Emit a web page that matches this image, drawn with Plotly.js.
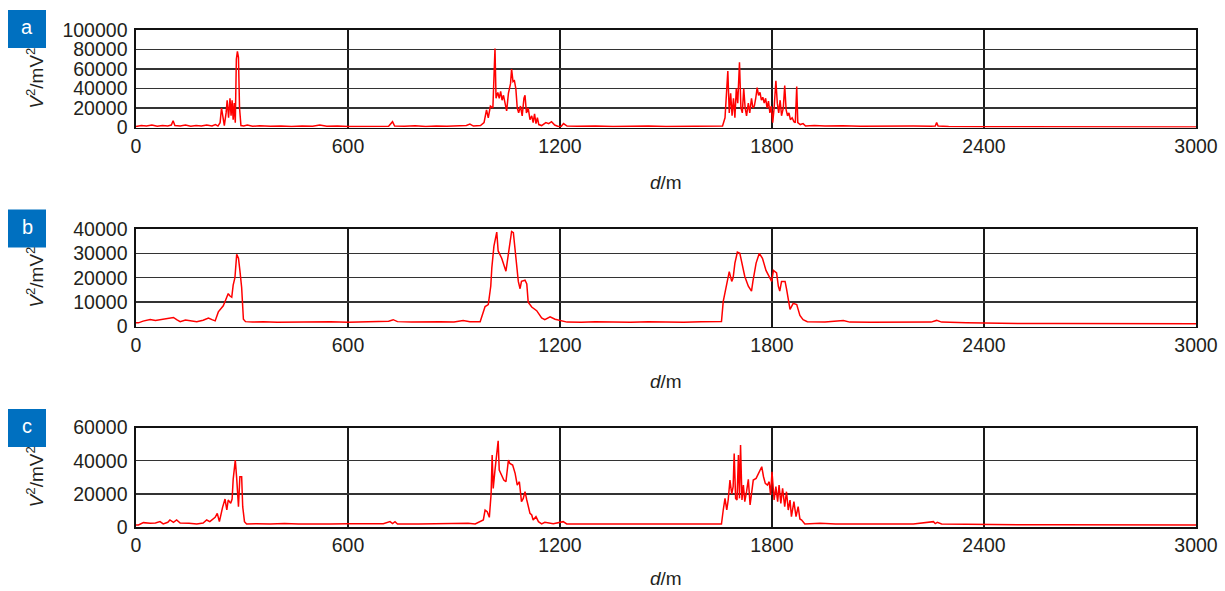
<!DOCTYPE html>
<html><head><meta charset="utf-8">
<script src="https://cdn.plot.ly/plotly-3.0.1.min.js"></script>
<style>html,body{margin:0;padding:0;background:#fff}#chart{width:1225px;height:591px}</style>
</head><body><div id="chart"></div>
<script>
// Panel a
const aDist = [0,15,30,45,60,75,90,100,105,110,125,140,155,170,185,200,215,225,232,238,242,246,250,255,258,262,266,269,272,275,278,281,284,287,290,293,297,305,315,330,350,380,410,440,470,500,520,540,570,600,630,660,690,715,726,732,760,790,820,850,880,910,935,945,955,975,985,992,997,1003,1010,1016,1019,1024,1028,1032,1036,1040,1044,1049,1054,1060,1063,1067,1071,1075,1079,1083,1088,1093,1098,1101,1105,1110,1115,1120,1124,1128,1132,1136,1140,1148,1160,1168,1176,1185,1195,1203,1210,1220,1250,1300,1350,1400,1450,1500,1550,1600,1640,1660,1667,1671,1675,1679,1683,1687,1691,1695,1699,1703,1708,1712,1716,1720,1724,1728,1733,1737,1742,1746,1750,1754,1758,1762,1766,1770,1774,1778,1782,1786,1790,1794,1798,1802,1806,1811,1815,1819,1823,1827,1832,1836,1840,1844,1848,1852,1857,1862,1866,1870,1873,1880,1888,1895,1920,1950,2000,2050,2100,2150,2200,2250,2262,2266,2270,2300,2350,2400,2500,2600,2700,2800,2900,3000];
const aPower = [1000,2000,1500,2500,1200,2000,1500,2500,7000,2000,1500,2500,1200,2000,1500,2500,1500,3000,1500,5000,20000,8000,2000,15000,28000,10000,30000,12000,28000,8000,25000,5000,70000,78000,72000,20000,2000,1500,2500,1200,1800,1200,1500,1000,1500,1200,2500,1200,1500,1000,1200,1500,1000,1200,6000,1500,1200,1800,1000,1500,1200,1800,2000,3500,1500,2000,5000,18000,10000,22000,20000,81000,30000,36000,30000,37000,28000,33000,25000,17000,35000,45000,60000,47000,48000,40000,20000,15000,22000,12000,30000,33000,15000,20000,8000,12000,5000,14000,4000,10000,3000,2000,5000,4000,6000,2500,1000,1000,4000,1500,1200,1500,1000,1300,1500,1000,1300,1200,1500,1500,10000,30000,58000,15000,35000,12000,30000,10000,40000,25000,67000,20000,15000,40000,20000,12000,25000,15000,30000,20000,22000,30000,41000,33000,36000,28000,31000,25000,30000,20000,27000,15000,22000,5000,20000,48000,25000,15000,28000,12000,20000,43000,18000,12000,15000,8000,10000,6000,5000,42000,5000,3000,4000,1500,2000,1500,1800,1200,1500,1200,1500,1200,1500,5000,1500,1000,1200,800,700,800,600,700,600,600];
// Panel b
const bDist = [0,7,20,40,55,70,85,100,106,115,125,140,155,172,190,205,215,224,233,240,247,254,261,266,271,275,280,285,290,294,299,304,310,330,360,400,450,500,550,600,650,700,715,728,740,780,820,860,900,926,945,974,988,997,1004,1007,1013,1021,1025,1035,1047,1057,1063,1068,1075,1082,1087,1091,1101,1106,1110,1120,1134,1148,1157,1172,1186,1205,1220,1260,1300,1350,1400,1450,1500,1550,1600,1640,1657,1662,1672,1679,1686,1690,1695,1702,1709,1714,1723,1733,1742,1746,1755,1764,1773,1783,1792,1799,1804,1813,1818,1822,1827,1837,1841,1846,1851,1860,1870,1879,1888,1900,1950,2002,2020,2080,2150,2200,2250,2266,2280,2350,2400,2500,2600,2700,2800,2900,3000];
const bPower = [1500,1500,2200,2900,2500,2800,3000,3400,3700,2800,2000,2700,2300,2000,2600,3500,2800,2300,6000,7500,8500,11000,13500,12500,12000,17000,20000,29600,28000,23000,16000,3000,2000,1800,1900,1700,1800,1700,1900,1700,1800,1900,2200,2800,2000,1800,1700,1900,1800,2500,2000,2000,8200,9000,16500,24000,33000,38700,31000,28000,22700,33000,39000,38500,29000,18500,15500,18500,19000,17500,10000,8000,6500,3500,2800,4000,3000,2500,1800,1700,1900,1800,1700,2000,1800,1700,1900,1800,2000,10300,17000,22500,18500,20000,26000,30500,30000,26000,20500,16500,14500,18500,26000,30000,28000,23000,20500,18500,23000,22000,16500,14500,18500,18500,15500,10300,7000,9500,9000,4500,2800,2000,1800,2500,1800,1700,1800,1700,1800,2500,1800,1500,1300,1200,1200,1100,1200,1100,1100];
// Panel c
const cDist = [0,7,21,40,55,68,77,90,96,106,115,125,150,172,190,200,209,224,230,236,245,252,257,261,268,272,275,281,285,290,294,299,302,307,313,340,380,420,460,500,550,600,650,700,719,726,733,740,800,850,900,940,960,983,988,994,1000,1005,1008,1011,1016,1021,1025,1028,1035,1041,1047,1054,1058,1066,1073,1079,1085,1091,1096,1101,1106,1110,1115,1120,1124,1132,1139,1148,1157,1181,1195,1209,1219,1260,1300,1350,1400,1450,1500,1550,1600,1657,1662,1667,1672,1676,1681,1686,1690,1693,1697,1701,1705,1708,1711,1715,1719,1723,1728,1733,1738,1742,1747,1755,1762,1771,1776,1781,1787,1792,1796,1800,1806,1811,1816,1820,1825,1830,1836,1841,1846,1851,1855,1862,1868,1874,1879,1884,1893,1936,1980,2050,2100,2150,2200,2257,2262,2268,2280,2350,2400,2500,2600,2700,2800,2900,3000];
const cPower = [1400,1400,2800,2400,2600,3400,2000,3000,4400,3000,4400,2600,2400,2000,2600,4400,3400,6000,8400,3400,12000,17000,10400,16400,14400,17000,28800,40400,29400,12400,30400,30400,12400,3400,2000,2200,2000,2300,2000,2200,2000,2100,2000,2100,3400,2200,3400,2000,2000,2200,2000,2400,2000,4400,10400,9400,6000,20000,43400,23400,34400,44400,52000,34400,31400,28400,27400,40400,38400,37400,32400,25400,27400,15400,17400,21400,16400,12400,8400,7400,4400,6400,3400,2000,3000,2200,3000,3400,2000,2000,1900,2000,1800,2000,1900,1800,2000,2000,10400,17400,10400,16400,28400,20000,24400,44400,17400,16400,43400,17400,49400,16400,25400,15400,21400,28800,13400,20400,28400,29400,32400,36400,30400,26400,25400,27400,19400,33400,16400,24400,15400,25400,14400,23400,12400,21400,10400,16400,6400,15400,6400,12400,5000,4400,2000,2400,2000,2100,2000,2100,2000,3400,2200,3000,2000,1800,1600,1500,1500,1400,1500,1400,1400];

const xTicks = [0,600,1200,1800,2400,3000];
const panelLabels = ['a','b','c'];
const yRanges = [[0,100000],[0,40000],[0,60000]];
const yTicks = [[0,20000,40000,60000,80000,100000],[0,10000,20000,30000,40000],[0,20000,40000,60000]];

const W = 1225, H = 591;
const TXT = '#231f20';
const FONT = 'Liberation Sans, Arial, sans-serif';
const xdom = [136/W, 1196/W];
const ypx = [[30,127.5],[229,326.5],[427.5,527.3]];
const xTitleY = [183, 381, 578];
const series = [[aDist,aPower],[bDist,bPower],[cDist,cPower]];

const data = [], layout = {
  width: W, height: H, margin: {l:0,r:0,t:0,b:0},
  paper_bgcolor: '#fff', plot_bgcolor: '#fff', showlegend: false,
  font: {family: FONT, color: TXT, size: 19},
  annotations: [], shapes: []
};
for (let i = 0; i < 3; i++) {
  const sfx = i === 0 ? '' : String(i+1);
  data.push({x: series[i][0], y: series[i][1], type: 'scatter', mode: 'lines',
    xaxis: 'x'+sfx, yaxis: 'y'+sfx, line: {color: '#ff0000', width: 1.5}, hoverinfo: 'skip'});
  const top = ypx[i][0], bot = ypx[i][1];
  const ydom = [1 - bot/H, 1 - top/H];
  layout['xaxis'+sfx] = {domain: xdom, range: [0,3000], anchor: 'y'+sfx,
    tickvals: xTicks, ticktext: xTicks.map(String), ticks: '', ticklabelstandoff: 0,
    showgrid: true, gridcolor: '#1a1a1a', gridwidth: 1.4, zeroline: false,
    showline: true, mirror: true, linecolor: '#111', linewidth: 1.6,
    tickfont: {family: FONT, size: 19.5, color: TXT}};
  layout['yaxis'+sfx] = {domain: ydom, range: yRanges[i], anchor: 'x'+sfx,
    tickvals: yTicks[i], ticktext: yTicks[i].map(String), ticks: '', ticklabelstandoff: 3,
    showgrid: true, gridcolor: '#333333', gridwidth: 1.4, zeroline: false,
    showline: true, mirror: true, linecolor: '#111', linewidth: 1.6,
    tickfont: {family: FONT, size: 19.5, color: TXT}};
  // x title
  layout.annotations.push({xref: 'paper', yref: 'paper', x: 666/W, y: 1 - xTitleY[i]/H,
    text: '<i>d</i>/m', showarrow: false, font: {family: FONT, size: 19, color: TXT},
    xanchor: 'center', yanchor: 'middle'});
  // y title
  layout.annotations.push({xref: 'paper', yref: 'paper', x: 35/W, y: 1 - ((top+bot)/2)/H,
    text: '<i>V</i><sup>2</sup>/mV<sup>2</sup>', textangle: -90, showarrow: false,
    font: {family: FONT, size: 19, color: TXT}, xanchor: 'center', yanchor: 'middle'});
  // panel label box
  const by = 10 + i*199.5;
  layout.shapes.push({type: 'rect', xref: 'paper', yref: 'paper', x0: 8/W, x1: 46/W,
    y0: 1 - (by+38)/H, y1: 1 - by/H, fillcolor: '#0070c0', line: {width: 0}, layer: 'above'});
  layout.annotations.push({xref: 'paper', yref: 'paper', x: 27/W, y: 1 - (by+17)/H,
    text: panelLabels[i], showarrow: false, font: {family: FONT, size: 20, color: '#fff'},
    xanchor: 'center', yanchor: 'middle'});
}
Plotly.newPlot('chart', data, layout, {staticPlot: true, displayModeBar: false});
</script></body></html>
